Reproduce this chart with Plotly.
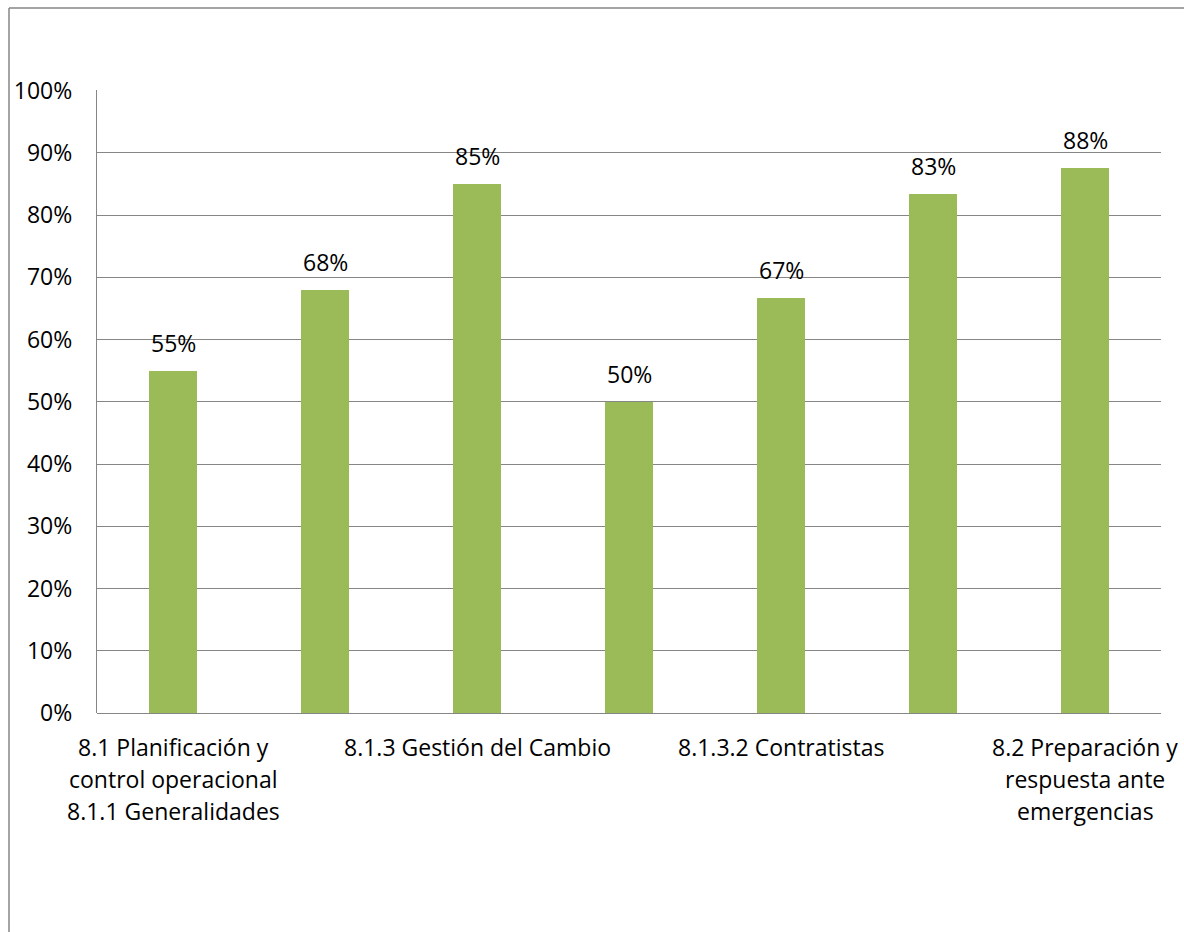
import plotly.graph_objects as go

# Compliance per clause (fraction of 1)
values = [0.55, 0.68, 0.85, 0.50, 0.6667, 0.8333, 0.875]
positions = list(range(len(values)))

# Axis labels shown under every second bar (one entry per text line)
tick_positions = [0, 2, 4, 6]
tick_labels = [
    ["8.1 Planificación y", "control operacional", "8.1.1 Generalidades"],
    ["8.1.3 Gestión del Cambio"],
    ["8.1.3.2 Contratistas"],
    ["8.2 Preparación y", "respuesta ante", "emergencias"],
]
y_ticks = [i / 10 for i in range(11)]

W, H = 1184, 932
L, R, T, B = 97, 23, 90, 219
FONT = "Open Sans, sans-serif"
FS = 23
GRID = "#868686"
LINE_STEP = 32

fig = go.Figure()
fig.add_trace(go.Bar(
    x=positions,
    y=values,
    width=0.316,
    marker=dict(color="#9BBB59", line=dict(width=0)),
    hoverinfo="skip",
))

# Value labels above each bar
for xi, v in zip(positions, values):
    fig.add_annotation(
        x=xi, y=v, text=f"{v:.0%}", showarrow=False,
        yshift=28, font=dict(family=FONT, size=FS, color="#000000"),
    )

# Category labels under the axis, one line per annotation
for xi, lines in zip(tick_positions, tick_labels):
    for k, line in enumerate(lines):
        fig.add_annotation(
            x=xi, y=0, xref="x", yref="y", text=line, showarrow=False,
            yanchor="middle", yshift=-(34 + k * LINE_STEP),
            font=dict(family=FONT, size=FS, color="#000000"),
        )

# Chart frame (left and top edges visible)
pw, ph = W - L - R, H - T - B
x0 = (9 - L) / pw
y0 = (H - B - 8) / ph
fig.add_shape(type="line", xref="paper", yref="paper",
              x0=x0, x1=x0, y0=y0, y1=-1, line=dict(color=GRID, width=1.5))
fig.add_shape(type="line", xref="paper", yref="paper",
              x0=x0, x1=2, y0=y0, y1=y0, line=dict(color=GRID, width=1.5))

fig.update_layout(
    width=W, height=H,
    margin=dict(l=L, r=R, t=T, b=B, pad=0, autoexpand=False),
    paper_bgcolor="white", plot_bgcolor="white",
    showlegend=False,
    font=dict(family=FONT, size=FS, color="#000000"),
    bargap=0,
)
fig.update_xaxes(
    range=[-0.5, 6.5],
    showticklabels=False,
    showgrid=False, zeroline=False,
    showline=False, ticks="", automargin=False,
)
fig.update_yaxes(
    range=[0, 1.0008], tickmode="array", tickvals=y_ticks, tickformat=".0%",
    showgrid=True, gridcolor=GRID, gridwidth=1.3,
    zeroline=True, zerolinecolor=GRID, zerolinewidth=1.3,
    showline=True, linecolor=GRID, linewidth=1.3,
    ticks="", ticklabelstandoff=19, automargin=False,
    tickfont=dict(family=FONT, size=FS, color="#000000"),
)

fig.write_html("out.html")
